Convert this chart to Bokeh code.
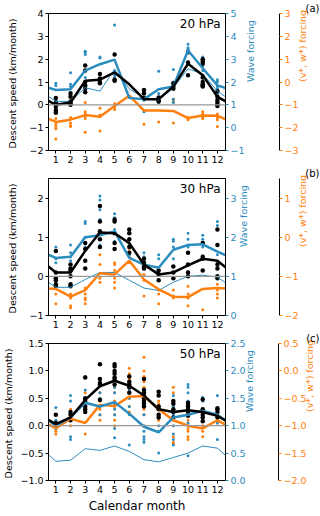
import math
from bokeh.plotting import figure
from bokeh.models import Range1d, LinearAxis, FixedTicker, Label, Span, CustomJSTickFormatter
from bokeh.layouts import column
from bokeh.embed import file_html
from bokeh.resources import INLINE

MONTHS = list(range(1, 13))

# ---------------- Panel (a) 20 hPa ----------------
A_DESCENT = [0.0, 0.1, 1.05, 1.1, 1.42, 0.9, 0.25, 0.25, 0.8, 1.8, 1.3, 0.35]
A_WAVE = [1.65, 1.68, 2.5, 2.78, 2.98, 1.3, 1.25, 1.68, 1.8, 3.38, 2.6, 1.85]
A_WAVE_THIN = [1.15, 1.15, 1.75, 1.6, 2.55, 1.7, 1.3, 1.2, 1.75, 2.58, 2.35, 1.6]
A_VW = [-1.75, -1.65, -1.45, -1.52, -1.05, -0.6, -1.25, -1.25, -1.27, -1.58, -1.47, -1.48]
A_DESCENT_PTS = [[0.3, 0.1, -0.1, -0.25, -0.35], [0.5, 0.35, 0.15, 0.05, 0.0],
                 [1.72, 1.5, 1.0, 0.85, 0.7, 0.55], [1.35, 1.15, 1.0, 0.95],
                 [2.2, 1.1, 1.05], [], [0.65, 0.5, 0.3], [0.32, 0.2, 0.15],
                 [0.95, 0.8, 0.7], [2.3, 1.85, 1.3],
                 [2.0, 1.9, 1.8, 1.2, 1.0, 0.9, 0.85, 0.8],
                 [0.6, 0.35, 0.2, 0.1, 0.0, -0.05]]
A_WAVE_PTS = [[1.95, 1.85, 1.3, 1.2, 1.1], [2.4, 1.9, 1.8, 1.55, 1.45],
              [3.35, 3.3, 3.2, 2.2, 2.0], [3.1, 3.05], [4.5, 2.5, 2.3, 2.2], [],
              [1.6, 1.2, 0.7], [2.47, 1.5, 1.1], [2.55, 2.0, 1.95, 1.25, 1.1],
              [3.65, 3.5, 3.45, 3.4], [3.1, 3.0, 2.9, 2.8, 2.7, 2.5, 2.3],
              [2.1, 2.0, 1.8, 1.7, 1.5]]
A_VW_PTS = [[-1.6, -1.85, -1.95, -2.05, -2.5], [-1.55, -1.8, -1.9, -1.95],
            [-0.9, -1.3, -1.4, -1.5, -1.6, -2.2], [-1.15, -1.45, -1.5, -2.15],
            [-0.95, -1.05, -1.1, -1.2], [], [-1.85], [-1.75], [-0.75, -0.85, -1.8],
            [-1.55, -1.6, -1.65], [-1.3, -1.4, -1.45, -1.5, -1.55, -1.6],
            [-1.4, -1.5, -1.55, -1.65, -1.95]]

# ---------------- Panel (b) 30 hPa ----------------
B_DESCENT = [0.1, 0.1, 0.65, 1.12, 1.1, 0.85, 0.3, 0.05, 0.1, 0.28, 0.45, 0.4]
B_WAVE = [1.47, 1.5, 2.0, 2.05, 2.15, 1.47, 1.3, 1.22, 1.68, 1.8, 1.82, 1.63]
B_WAVE_THIN = [0.72, 0.72, 0.92, 1.1, 1.1, 0.9, 0.7, 0.64, 0.85, 1.0, 1.03, 0.98]
B_VW = [-1.32, -1.52, -1.35, -0.92, -0.95, -0.6, -1.08, -1.33, -1.52, -1.53, -1.32, -1.3]
B_DESCENT_PTS = [[0.65, 0.1, -0.05, -0.1, -0.2, -0.25], [0.3, 0.2, 0.15, 0.0, -0.2, -0.25],
                 [0.85, 0.7, 0.4, 0.2], [1.8, 1.4, 1.15, 1.1, 0.95, 0.75],
                 [1.45, 1.4, 1.1, 0.85, 0.7], [1.2, 1.1, 0.95, 0.75, 0.6],
                 [0.45, 0.35, 0.25, 0.2], [0.15, 0.05, -0.1], [0.25, 0.1, -0.05],
                 [0.6, 0.3, 0.1, 0.0], [0.85, 0.5, 0.45, 0.15],
                 [1.2, 0.8, 0.3, 0.2, 0.0, -0.05]]
B_WAVE_PTS = [[1.75, 1.65, 1.45, 1.35, 0.8], [1.8, 1.6, 1.5, 1.4, 1.1],
              [2.4, 2.35, 2.0, 1.85, 1.75], [3.05, 2.95, 2.7, 2.45, 2.15, 1.8, 1.75],
              [2.6, 2.5, 2.2, 1.9], [1.95, 1.85, 1.55], [1.6, 1.5, 1.3, 1.2],
              [1.55, 1.45, 1.1], [1.95, 1.9, 1.75, 1.45], [2.1, 1.95, 1.75, 1.6],
              [2.05, 1.95, 1.75], [2.4, 2.3, 1.8, 1.55, 1.35]]
B_VW_PTS = [[-1.1, -1.45, -1.7], [-1.45, -1.55, -1.75, -1.8],
            [-1.3, -1.45, -1.55, -1.6, -1.7], [-0.45, -0.7, -1.05, -1.15],
            [-0.65, -0.7, -0.85, -1.05, -1.15, -1.3], [-0.2, -0.3, -0.5, -0.65],
            [-0.95, -1.1, -1.5], [-1.35, -1.45, -1.7], [-1.35, -1.5, -1.55],
            [-1.25, -1.45, -1.55, -1.75], [-1.85], [-1.2, -1.35, -1.45, -1.55]]

# ---------------- Panel (c) 50 hPa ----------------
C_DESCENT = [0.03, 0.15, 0.47, 0.72, 0.82, 0.73, 0.55, 0.3, 0.25, 0.28, 0.25, 0.18]
C_WAVE = [1.0, 1.15, 1.42, 1.35, 1.43, 1.22, 0.98, 0.88, 1.15, 1.2, 1.27, 1.2]
C_WAVE_THIN = [0.35, 0.37, 0.58, 0.55, 0.63, 0.53, 0.38, 0.34, 0.42, 0.5, 0.63, 0.59]
C_VW = [-1.05, -0.87, -0.95, -0.62, -0.64, -0.47, -0.46, -0.7, -0.9, -1.0, -1.05, -0.9]
C_DESCENT_PTS = [[0.2, 0.05, 0.0], [0.25, 0.2, 0.1], [0.88, 0.5, 0.45, 0.35, 0.3, 0.25],
                 [1.12, 0.85, 0.78, 0.75, 0.47], [1.12, 1.08, 1.0, 0.95, 0.88, 0.85, 0.75],
                 [0.9, 0.8, 0.75, 0.7, 0.6], [0.85, 0.65, 0.6, 0.55, 0.5, 0.45, 0.4, 0.35],
                 [0.62, 0.55, 0.35, 0.3, 0.2, 0.15], [0.45, 0.4, 0.3, 0.25, 0.15],
                 [0.42, 0.38, 0.35, 0.3, 0.25, 0.18], [0.48, 0.3, 0.2, 0.15, 0.08],
                 [0.32, 0.3, 0.25, 0.15]]
C_WAVE_PTS = [[1.33, 1.1, 0.95], [1.55, 1.45, 0.8, 0.75], [1.9, 1.65, 1.5, 1.4, 1.3],
              [1.8, 1.6, 1.5, 1.35, 1.2],
              [2.08, 1.95, 1.85, 1.7, 1.6, 1.4, 1.3, 1.2, 0.95, 0.78],
              [1.8, 1.75, 1.65, 1.5, 1.35, 1.2, 0.65],
              [1.5, 1.35, 1.2, 1.0, 0.9, 0.8, 0.75, 0.7], [1.3, 1.15, 1.0, 0.9, 0.5],
              [1.55, 1.35, 1.2, 1.0, 0.85, 0.75, 0.65],
              [1.75, 1.7, 1.6, 1.45, 1.3, 1.2, 1.05, 0.45],
              [1.52, 1.45, 1.3, 1.25, 1.15], [1.55, 1.3, 1.2, 1.05, 0.75]]
C_VW_PTS = [[-0.95, -1.05, -1.1, -1.15], [-0.7, -0.75, -0.85, -1.0], [-0.4, -0.55, -1.15],
            [-0.4, -0.5, -0.55, -0.7, -0.8, -0.9],
            [-0.05, -0.15, -0.3, -0.4, -0.55, -0.65, -0.8, -0.9, -1.0],
            [0.05, -0.05, -0.15, -0.3, -0.4, -0.5, -0.65, -0.75],
            [0.25, 0.0, -0.1, -0.2, -0.3, -0.4, -0.5, -0.7, -0.8],
            [-0.55, -0.6, -0.8, -0.9],
            [-0.3, -0.4, -0.55, -0.75, -0.9, -1.2, -1.3, -1.33],
            [-0.6, -0.75, -0.9, -1.05, -1.1, -1.2, -1.25],
            [-0.75, -0.9, -1.0, -1.1, -1.2], [-0.8, -0.85, -0.9, -0.95]]

BLUE = "#2b8cbe"
ORANGE = "#ff7f0e"
FONT = "DejaVu Sans"


def fmt(dec):
    return CustomJSTickFormatter(code=(
        "const s = Math.abs(tick).toFixed(%d);"
        "return (tick < -1e-9 ? '\u2212' : '') + s;" % dec))


def style_axis(ax, color, dec):
    ax.axis_line_color = "black"
    ax.major_tick_line_color = color
    ax.major_label_text_color = color
    ax.axis_label_text_color = color
    ax.minor_tick_line_color = None
    ax.major_tick_out = 3
    ax.major_tick_in = 0
    ax.major_label_standoff = 2
    ax.major_label_text_font = FONT
    ax.major_label_text_font_size = "9.5px"
    ax.axis_label_text_font = FONT
    ax.axis_label_text_font_size = "9.5px"
    ax.axis_label_text_font_style = "normal"
    if dec is not None:
        ax.formatter = fmt(dec)


def ticks(lo, hi, step):
    n = int(math.floor((hi - lo) / step + 1e-9))
    return [round(lo + i * step, 6) for i in range(n + 1)]


def wrap(vals):
    return [0] + MONTHS + [13], [vals[-1]] + list(vals) + [vals[0]]


def flat(pts):
    xs, ys = [], []
    for m, arr in zip(MONTHS, pts):
        for v in arr:
            xs.append(m)
            ys.append(v)
    return xs, ys


def make_panel(tag, hpa, left, wave, vw, step, dec, descent, wave_l, wave_thin, vw_l,
               d_pts, w_pts, o_pts, frame_h, xlabel,
               left_std, wave_std, spacer_std, vw_std):
    p = figure(frame_width=177, frame_height=frame_h, x_range=Range1d(0.5, 12.55),
               y_range=Range1d(*left), output_backend="svg", toolbar_location=None,
               min_border_left=45, min_border_right=98, min_border_top=0,
               min_border_bottom=0, title=tag)
    p.title.align = "right"
    p.title.offset = -94
    p.title.standoff = 0
    p.title.text_font = FONT
    p.title.text_font_size = "10px"
    p.title.text_font_style = "normal"
    p.title.text_color = "black"
    p.title.vertical_align = "bottom"

    p.extra_y_ranges = {"wave": Range1d(*wave), "vw": Range1d(*vw)}
    p.xgrid.visible = False
    p.ygrid.visible = False
    p.outline_line_color = "black"
    p.outline_line_width = 1
    p.background_fill_color = "white"
    p.border_fill_color = "white"

    ya = p.yaxis[0]
    style_axis(ya, "black", dec)
    ya.ticker = FixedTicker(ticks=ticks(left[0], left[1], step))
    ya.axis_label = "Descent speed  (km/month)"
    ya.axis_label_standoff = left_std

    xa = p.xaxis[0]
    style_axis(xa, "black", None)
    xa.ticker = FixedTicker(ticks=MONTHS)
    if xlabel:
        xa.axis_label = xlabel
        xa.axis_label_text_font_size = "12px"
        xa.axis_label_standoff = 3

    wa = LinearAxis(y_range_name="wave", axis_label="Wave forcing")
    style_axis(wa, BLUE, dec)
    wa.ticker = FixedTicker(ticks=ticks(wave[0], wave[1], step))
    wa.axis_label_standoff = wave_std
    wa.axis_label_orientation = math.pi / 2
    p.add_layout(wa, "right")

    sp = LinearAxis(y_range_name="wave", ticker=FixedTicker(ticks=[]), axis_label=" ",
                    axis_line_color=None, major_tick_line_color=None,
                    minor_tick_line_color=None, axis_label_standoff=spacer_std,
                    axis_label_text_font_size="1px")
    p.add_layout(sp, "right")

    va = LinearAxis(y_range_name="vw", axis_label="(v*, w*) forcing")
    style_axis(va, ORANGE, dec)
    va.ticker = FixedTicker(ticks=ticks(vw[0], vw[1], step))
    va.axis_label_standoff = vw_std
    va.axis_label_orientation = math.pi / 2
    p.add_layout(va, "right")

    p.add_layout(Span(location=0, dimension="width", line_color="#999999", line_width=1.3))

    ox, oy = flat(o_pts)
    p.scatter(ox, oy, y_range_name="vw", size=3, color=ORANGE, line_color=None)
    bx, by = flat(w_pts)
    p.scatter(bx, by, y_range_name="wave", size=3, color=BLUE, line_color=None)
    kx, ky = flat(d_pts)
    p.scatter(kx, ky, size=4.5, color="black", line_color=None)

    x, y = wrap(wave_thin)
    p.line(x, y, y_range_name="wave", color=BLUE, line_width=1)
    x, y = wrap(vw_l)
    p.line(x, y, y_range_name="vw", color=ORANGE, line_width=2.5)
    x, y = wrap(wave_l)
    p.line(x, y, y_range_name="wave", color=BLUE, line_width=2.5)
    x, y = wrap(descent)
    p.line(x, y, color="black", line_width=2.5)

    p.add_layout(Label(x=12.55, y=left[1], x_offset=-5, y_offset=-10, text=hpa,
                       text_align="right", text_baseline="middle",
                       text_font=FONT, text_font_size="12px", text_color="black"))
    return p


pa = make_panel("(a)", "20 hPa", (-2, 4), (-1, 5), (-3, 3), 1, 0,
                A_DESCENT, A_WAVE, A_WAVE_THIN, A_VW,
                A_DESCENT_PTS, A_WAVE_PTS, A_VW_PTS,
                137, None, 8, 3, 11, 1)
pb = make_panel("(b)", "30 hPa", (-1, 2.5), (0, 3.5), (-2, 1.5), 1, 0,
                B_DESCENT, B_WAVE, B_WAVE_THIN, B_VW,
                B_DESCENT_PTS, B_WAVE_PTS, B_VW_PTS,
                137, None, 8, 4, 18, 1)
pc = make_panel("(c)", "50 hPa", (-1, 1.5), (0, 2.5), (-2, 0.5), 0.5, 1,
                C_DESCENT, C_WAVE, C_WAVE_THIN, C_VW,
                C_DESCENT_PTS, C_WAVE_PTS, C_VW_PTS,
                137, "Calendar month", 3, 1, 11, 0)

layout = column(pa, pb, pc, spacing=0)
open("out.html", "w").write(file_html(layout, INLINE))
